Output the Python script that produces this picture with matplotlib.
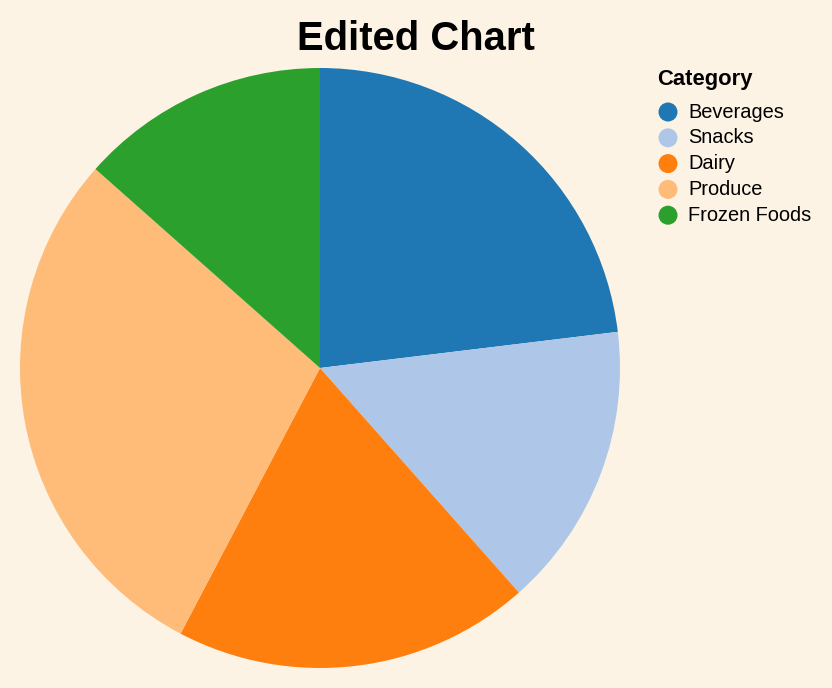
import matplotlib
matplotlib.use("Agg")
import matplotlib.pyplot as plt

categories = ["Beverages", "Snacks", "Dairy", "Produce", "Frozen Foods"]
values = [120, 80, 100, 150, 70]
colors = ["#1f77b4", "#aec7e8", "#ff7f0e", "#ffbb78", "#2ca02c"]
title = "Edited Chart"
legend_title = "Category"

plt.rcParams['font.family'] = ['Liberation Sans', 'DejaVu Sans']
bg = "#fdf3e5"
W, H = 832, 688
fig = plt.figure(figsize=(W / 100, H / 100), dpi=100, facecolor=bg)

cx, cy, r = 320, 368, 300
ax = fig.add_axes([(cx - r) / W, (H - cy - r) / H, 2 * r / W, 2 * r / H])
ax.set_facecolor(bg)
ax.pie(values, colors=colors, startangle=90, counterclock=False,
       wedgeprops=dict(linewidth=0))
ax.set_xlim(-1, 1)
ax.set_ylim(-1, 1)
ax.set_aspect('equal')
ax.axis('off')

fig.text(416 / W, 1 - 39 / H, title, ha='center', va='center',
         fontsize=28.8, fontweight='bold')

fig.text(657 / W, 1 - 79 / H, legend_title, ha='left', va='center',
         fontsize=15.8, fontweight='bold')
y0, dy = 112, 25.8
for i, (cat, col) in enumerate(zip(categories, colors)):
    y = y0 + i * dy
    fig.patches.append(matplotlib.patches.Circle(
        (668 / W, 1 - y / H), 9.5 / W, transform=fig.transFigure,
        facecolor=col, edgecolor='none'))
    # correct aspect: use ellipse instead
    fig.patches[-1].remove() if False else None
    fig.text(688 / W, 1 - y / H, cat, ha='left', va='center', fontsize=14.4)

# replace circles with proper round markers
fig.patches.clear()
for i, col in enumerate(colors):
    y = y0 + i * dy
    fig.patches.append(matplotlib.patches.Ellipse(
        (668 / W, 1 - y / H), 19 / W, 19 / H, transform=fig.transFigure,
        facecolor=col, edgecolor='none'))

fig.savefig("out.png", dpi=100, facecolor=bg)
